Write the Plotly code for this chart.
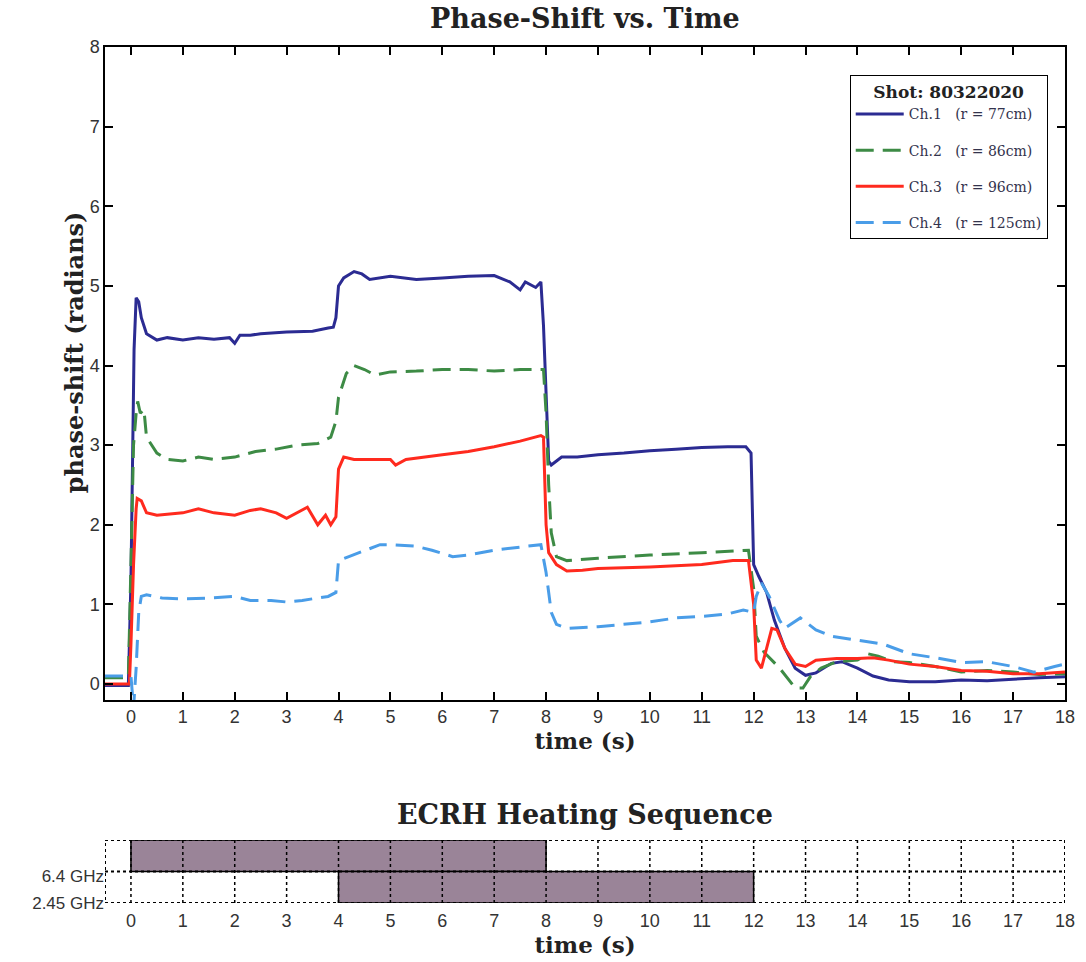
import plotly.graph_objects as go

# ---------------- data ----------------
t_ch1 = [-0.5, -0.05, 0.0, 0.03, 0.06, 0.1, 0.15, 0.2, 0.3, 0.5, 0.7, 1.0, 1.3, 1.6, 1.9, 2.0, 2.1, 2.3, 2.5,
         3.0, 3.5, 3.8, 3.9, 3.95, 4.0, 4.1, 4.3, 4.45, 4.6, 5.0, 5.5, 6.0, 6.5, 7.0, 7.3, 7.5, 7.6, 7.8, 7.9,
         7.95, 8.0, 8.05, 8.1, 8.3, 8.6, 9.0, 9.5, 10.0, 10.5, 11.0, 11.5, 11.85, 11.95, 12.0, 12.1, 12.25,
         12.4, 12.6, 12.8, 13.0, 13.2, 13.5, 13.7, 14.0, 14.3, 14.6, 15.0, 15.5, 16.0, 16.5, 17.0, 17.5, 18.0]
v_ch1 = [-0.02, -0.02, 1.3, 3.0, 4.2, 4.85, 4.8, 4.6, 4.4, 4.32, 4.35, 4.32, 4.35, 4.33, 4.35, 4.28, 4.38, 4.38,
         4.40, 4.42, 4.43, 4.47, 4.48, 4.6, 5.0, 5.1, 5.18, 5.15, 5.08, 5.12, 5.08, 5.1, 5.12, 5.13, 5.05, 4.95,
         5.05, 4.98, 5.05, 4.5, 3.6, 2.8, 2.75, 2.85, 2.85, 2.88, 2.9, 2.93, 2.95, 2.97, 2.98, 2.98, 2.9, 1.5,
         1.35, 1.15, 0.8, 0.45, 0.2, 0.11, 0.14, 0.26, 0.28, 0.2, 0.1, 0.05, 0.03, 0.03, 0.05, 0.04, 0.06, 0.08,
         0.09]

t_ch2 = [-0.5, -0.05, 0.0, 0.05, 0.1, 0.13, 0.18, 0.25, 0.3, 0.5, 0.7, 1.0, 1.3, 1.6, 2.0, 2.4, 2.8, 3.2, 3.6,
         3.85, 3.95, 4.0, 4.15, 4.3, 4.5, 4.7, 5.0, 5.5, 6.0, 6.5, 7.0, 7.5, 7.95, 8.0, 8.05, 8.1, 8.2, 8.4,
         9.0, 10.0, 11.0, 11.9, 12.0, 12.05, 12.2, 12.5, 12.8, 12.95, 13.1, 13.3, 13.6, 14.0, 14.2, 14.4, 14.7,
         15.0, 15.5, 16.0, 16.5, 17.0, 17.5, 18.0]
v_ch2 = [0.08, 0.08, 1.5, 3.0, 3.4, 3.55, 3.4, 3.45, 3.1, 2.9, 2.82, 2.8, 2.85, 2.82, 2.85, 2.92, 2.95, 3.0, 3.02,
         3.1, 3.3, 3.6, 3.9, 4.0, 3.95, 3.88, 3.92, 3.93, 3.95, 3.95, 3.93, 3.95, 3.95, 3.4, 2.5, 1.9, 1.6,
         1.55, 1.58, 1.62, 1.65, 1.68, 1.2, 0.6, 0.4, 0.2, -0.05, -0.05, 0.1, 0.2, 0.28, 0.3, 0.38, 0.35, 0.28,
         0.27, 0.22, 0.15, 0.17, 0.15, 0.12, 0.13]

t_ch3 = [-0.5, -0.03, 0.0, 0.05, 0.1, 0.12, 0.2, 0.3, 0.5, 1.0, 1.3, 1.6, 2.0, 2.3, 2.5, 2.8, 3.0, 3.2, 3.4,
         3.6, 3.75, 3.85, 3.95, 4.0, 4.1, 4.3, 4.7, 5.0, 5.1, 5.3, 6.0, 6.5, 7.0, 7.5, 7.9, 7.95, 8.0, 8.05,
         8.2, 8.4, 8.7, 9.0, 10.0, 11.0, 11.6, 11.9, 12.0, 12.05, 12.15, 12.25, 12.35, 12.45, 12.6, 12.8, 13.0,
         13.2, 13.6, 14.0, 14.3, 14.6, 15.0, 15.5, 16.0, 16.5, 17.0, 17.5, 18.0]
v_ch3 = [0.0, 0.0, 0.5, 1.5, 2.2, 2.33, 2.3, 2.15, 2.12, 2.15, 2.2, 2.15, 2.12, 2.18, 2.2, 2.15, 2.08, 2.15, 2.22,
         2.0, 2.12, 2.0, 2.1, 2.7, 2.85, 2.82, 2.82, 2.82, 2.75, 2.82, 2.88, 2.92, 2.98, 3.05, 3.12, 3.1, 2.0,
         1.65, 1.5, 1.42, 1.43, 1.45, 1.47, 1.5, 1.55, 1.55, 1.0, 0.3, 0.2, 0.45, 0.7, 0.68, 0.45, 0.25, 0.22,
         0.3, 0.32, 0.32, 0.33, 0.3, 0.25, 0.22, 0.17, 0.16, 0.13, 0.13, 0.15]

t_ch4 = [-0.5, 0.0, 0.05, 0.1, 0.15, 0.2, 0.3, 0.6, 1.0, 1.5, 2.0, 2.3, 2.7, 3.0, 3.3, 3.5, 3.8, 3.95, 4.0,
         4.2, 4.5, 4.8, 5.0, 5.5, 5.8, 6.2, 6.5, 7.0, 7.5, 7.9, 8.0, 8.1, 8.2, 8.4, 9.0, 9.5, 10.0, 10.5, 11.0,
         11.5, 11.8, 12.0, 12.05, 12.15, 12.3, 12.5, 12.6, 12.9, 13.2, 13.5, 14.0, 14.5, 15.0, 15.5, 16.0, 16.5,
         17.0, 17.4, 17.8, 18.0]
v_ch4 = [0.1, 0.1, -0.3, 0.2, 0.9, 1.1, 1.12, 1.08, 1.07, 1.08, 1.1, 1.05, 1.05, 1.03, 1.05, 1.07, 1.1, 1.15, 1.55,
         1.6, 1.68, 1.75, 1.75, 1.73, 1.68, 1.6, 1.62, 1.68, 1.72, 1.75, 1.4, 0.9, 0.75, 0.7, 0.72, 0.75, 0.78,
         0.83, 0.85, 0.88, 0.93, 0.9, 1.1, 1.27, 1.1, 0.8, 0.7, 0.83, 0.68, 0.6, 0.55, 0.5, 0.38, 0.33, 0.27,
         0.28, 0.22, 0.15, 0.22, 0.25]

channel_names = ["Ch.1   (r = 77cm)", "Ch.2   (r = 86cm)", "Ch.3   (r = 96cm)", "Ch.4   (r = 125cm)"]
shot_label = "Shot: 80322020"

x_ticks = list(range(0, 19))
y_ticks = list(range(0, 9))

# ECRH heating sequence
sources = ["6.4 GHz", "2.45 GHz"]
source_on = [0, 4]
source_off = [8, 12]

# ---------------- styles ----------------
colors = ["#2b2b92", "#3d8b45", "#ff2a1e", "#4a9de8"]
dashes = ["solid", "18px,9px", "solid", "18px,9px"]
fill_color = "#9a8498"
SERIF = "DejaVu Serif"
SANS = "Liberation Sans"

fig = go.Figure()

for name, t, v, c, d in zip(channel_names, [t_ch1, t_ch2, t_ch3, t_ch4], [v_ch1, v_ch2, v_ch3, v_ch4], colors, dashes):
    fig.add_trace(go.Scatter(x=t, y=v, mode="lines", name=name, legendgroup=name,
                             line=dict(color=c, width=3, dash=d), xaxis="x", yaxis="y"))

# heating sequence bars: row y = 1.5 (6.4 GHz, top) and 0.5 (2.45 GHz, bottom)
row_y = [1.5, 0.5]
for s, on, off, ry in zip(sources, source_on, source_off, row_y):
    fig.add_trace(go.Bar(y=[ry], x=[off - on], base=[on], orientation="h", width=1.0,
                         marker=dict(color=fill_color, line=dict(color="black", width=1.5)),
                         showlegend=False, xaxis="x2", yaxis="y2", hoverinfo="skip"))

# dotted grid of the sequence panel
shapes = []
for xt in x_ticks:
    shapes.append(dict(type="line", xref="x2", yref="y2", x0=xt, x1=xt, y0=0, y1=2,
                       line=dict(color="black", width=1.5, dash="dot"), layer="above"))
shapes.append(dict(type="line", xref="x2", yref="y2", x0=-0.5, x1=18, y0=1, y1=1,
                   line=dict(color="black", width=2, dash="dot"), layer="above"))
shapes.append(dict(type="rect", xref="x2", yref="y2", x0=-0.5, x1=18, y0=0, y1=2,
                   line=dict(color="black", width=2, dash="dot"), layer="above"))

axis_font = dict(family=SANS, size=18, color="#333333")
title_font = dict(family=SERIF, size=23, color="#222222")

fig.update_layout(
    width=1086, height=962,
    paper_bgcolor="white", plot_bgcolor="white",
    margin=dict(l=105, r=21, t=47, b=59),
    showlegend=True,
    barmode="overlay",
    xaxis=dict(domain=[0, 1], range=[-0.5, 18], tickvals=x_ticks, ticks="inside", ticklen=8,
               tickwidth=1.5, tickcolor="black", showline=True, linecolor="black", linewidth=1.5,
               mirror="allticks", showgrid=False, zeroline=False, tickfont=axis_font,
               title=dict(text="<b>time (s)</b>", font=title_font, standoff=4), anchor="y"),
    yaxis=dict(domain=[0.2372, 1], range=[-0.2, 8], tickvals=y_ticks, ticks="inside", ticklen=8,
               tickwidth=1.5, tickcolor="black", showline=True, linecolor="black", linewidth=1.5,
               mirror="allticks", showgrid=False, zeroline=False, tickfont=axis_font, anchor="x"),
    xaxis2=dict(domain=[0, 1], range=[-0.5, 18], tickvals=x_ticks, ticks="outside", ticklen=1,
                tickcolor="rgba(0,0,0,0)", showline=False,
                showgrid=False, zeroline=False, tickfont=axis_font,
                title=dict(text="<b>time (s)</b>", font=title_font, standoff=0), anchor="y2"),
    yaxis2=dict(domain=[0, 0.0736], range=[0, 2], tickvals=[0.85, 0.0], ticktext=sources,
                ticks="", showline=False, showgrid=False, zeroline=False,
                tickfont=dict(family=SANS, size=17, color="#333333"), anchor="x2"),
    legend=dict(x=0.982, y=0.967, xanchor="right", yanchor="top",
                bordercolor="black", borderwidth=1, bgcolor="white",
                font=dict(family=SERIF, size=14, color="#33334d"),
                title=dict(text="<b>" + shot_label + "</b>", side="top center",
                           font=dict(family=SERIF, size=17, color="#222222")),
                tracegroupgap=15, itemwidth=48),
    shapes=shapes,
    annotations=[
        dict(text="<b>Phase-Shift vs. Time</b>", xref="paper", yref="paper", x=0.5, y=1,
             yshift=29, xanchor="center", yanchor="middle", showarrow=False,
             font=dict(family=SERIF, size=27, color="#222222")),
        dict(text="<b>phase-shift (radians)</b>", xref="paper", yref="paper", x=-0.031, y=0.6437,
             textangle=-90, xanchor="center", yanchor="middle", showarrow=False,
             font=dict(family=SERIF, size=24, color="#222222")),
        dict(text="<b>ECRH Heating Sequence</b>", xref="paper", yref="paper", x=0.5, y=0.0736,
             yshift=8, xanchor="center", yanchor="bottom", showarrow=False,
             font=dict(family=SERIF, size=27, color="#222222")),
    ],
)

fig.write_html("out.html", config={"displayModeBar": False},
               post_script="document.body.style.margin='0px';")
